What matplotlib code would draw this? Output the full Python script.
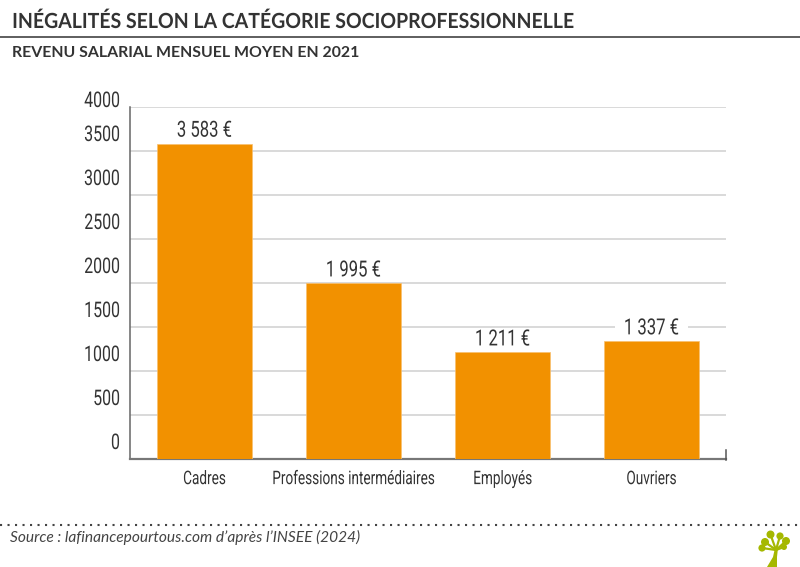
import matplotlib
matplotlib.use("Agg")
import matplotlib.pyplot as plt
from matplotlib.patches import Circle, Polygon
from matplotlib.patheffects import AbstractPathEffect
from matplotlib.transforms import Affine2D, Bbox, ScaledTranslation

categories = ["Cadres", "Professions intermédiaires", "Employés", "Ouvriers"]
values = [3583, 1995, 1211, 1337]
value_labels = ["3 583 €", "1 995 €", "1 211 €", "1 337 €"]
y_ticks = [0, 500, 1000, 1500, 2000, 2500, 3000, 3500, 4000]
title = "INÉGALITÉS SELON LA CATÉGORIE SOCIOPROFESSIONNELLE"
subtitle = "REVENU SALARIAL MENSUEL MOYEN EN 2021"
source = "Source : lafinancepourtous.com d’après l’INSEE (2024)"

W, H = 800, 567
DARK = "#333333"


class Squeeze(AbstractPathEffect):
    """Narrows a text horizontally about its anchor, as no condensed face is installed."""

    def __init__(self, sx, anchor):
        super().__init__()
        self.sx, self.anchor = sx, anchor

    def draw_path(self, renderer, gc, tpath, affine, rgbFace=None):
        box = tpath.get_extents(affine)
        x0 = {"left": box.x0, "center": (box.x0 + box.x1) / 2, "right": box.x1}[self.anchor]
        tr = affine + Affine2D().translate(-x0, 0).scale(self.sx, 1).translate(x0, 0)
        renderer.draw_path(gc, tpath, tr, rgbFace)


def squeeze(text, sx, anchor):
    text.set_path_effects([Squeeze(sx, anchor)])
    original = text.get_window_extent

    def extent(renderer=None, dpi=None):
        b = original(renderer, dpi)
        x0 = {"left": b.x0, "center": (b.x0 + b.x1) / 2, "right": b.x1}[anchor]
        return Bbox([[x0 + (b.x0 - x0) * sx, b.y0], [x0 + (b.x1 - x0) * sx, b.y1]])

    text.get_window_extent = extent


fig = plt.figure(figsize=(W / 100, H / 100), dpi=100, facecolor="white")
ax = fig.add_axes([130 / W, 1 - 459 / H, 596 / W, 352 / H])
x = range(len(categories))
ax.set_axisbelow(True)
ax.yaxis.grid(True, color="#cfcfcf", lw=1.1)
ax.bar(x, values, width=0.638, color="#f29100", edgecolor="#f8c070", lw=0.5, zorder=3)
ax.set_xlim(-0.5, 3.5)
ax.set_ylim(0, 4000)
for s in ["top", "right"]:
    ax.spines[s].set_visible(False)
ax.spines["left"].set_color("#666666")
ax.spines["bottom"].set_color("#777777")
ax.spines["left"].set_linewidth(1.1)
ax.spines["bottom"].set_linewidth(1.6)
ax.tick_params(axis="both", length=0)
ax.set_xticks(list(x), categories, family="Roboto", fontsize=13.5, color=DARK)
ax.tick_params(axis="x", pad=8)
ax.set_yticks(y_ticks, [str(v) for v in y_ticks], family="Roboto", fontsize=15.5, color=DARK)
ax.tick_params(axis="y", pad=7)
for lab in ax.get_xticklabels():
    squeeze(lab, 0.725, "center")
for v, lab in zip(y_ticks, ax.get_yticklabels()):
    up = 8 if v == 4000 else 18
    lab.set_transform(lab.get_transform() + ScaledTranslation(0, up / 100, fig.dpi_scale_trans))
    squeeze(lab, 0.74, "right")

for i, (v, s) in enumerate(zip(values, value_labels)):
    t = ax.annotate(s, (i, v), xytext=(0, 7), textcoords="offset pixels", ha="center", va="baseline",
                    family="Roboto", fontsize=16, color=DARK, zorder=4,
                    bbox=dict(fc="white", ec="none", pad=0) if v == 1337 else None)
    squeeze(t, 0.75, "center")

t = fig.text(12 / W, 1 - 22 / H, title, family="Lato", fontweight="bold", fontsize=15, color=DARK, va="center")
squeeze(t, 0.935, "left")
fig.text(12 / W, 1 - 53 / H, subtitle, family="Lato", fontweight="bold", fontsize=11.4, color=DARK, va="center")
fig.text(10 / W, 1 - 537 / H, source, family="Lato", style="italic", fontsize=11.15, color="#444444", va="center")

over = fig.add_axes([0, 0, 1, 1], facecolor="none")
over.set_xlim(0, W)
over.set_ylim(H, 0)
over.axis("off")
over.plot([0, W], [36.5, 36.5], color="#333333", lw=1.1)
over.plot([0, W], [524.5, 524.5], color="#444444", lw=1.5, ls=(0, (1, 2.6)))
over.plot([726, 726], [450, 460], color="#555555", lw=1.1)

green = "#a5b800"
lobes = [(762, 548, 3.6), (765, 542, 4), (770.5, 534.5, 4), (780, 536, 3.6), (786, 541, 4), (784, 547, 3)]
for cx, cy, r in lobes:
    over.add_patch(Circle((cx, cy), r, fc=green, ec="none"))
    over.plot([776, cx], [550, cy], color=green, lw=1.6, solid_capstyle="round")
over.add_patch(Polygon([(767, 567), (773, 557), (775, 548), (778, 548), (777, 557), (777, 567)], fc=green, ec="none"))

fig.savefig("out.png", dpi=100)
